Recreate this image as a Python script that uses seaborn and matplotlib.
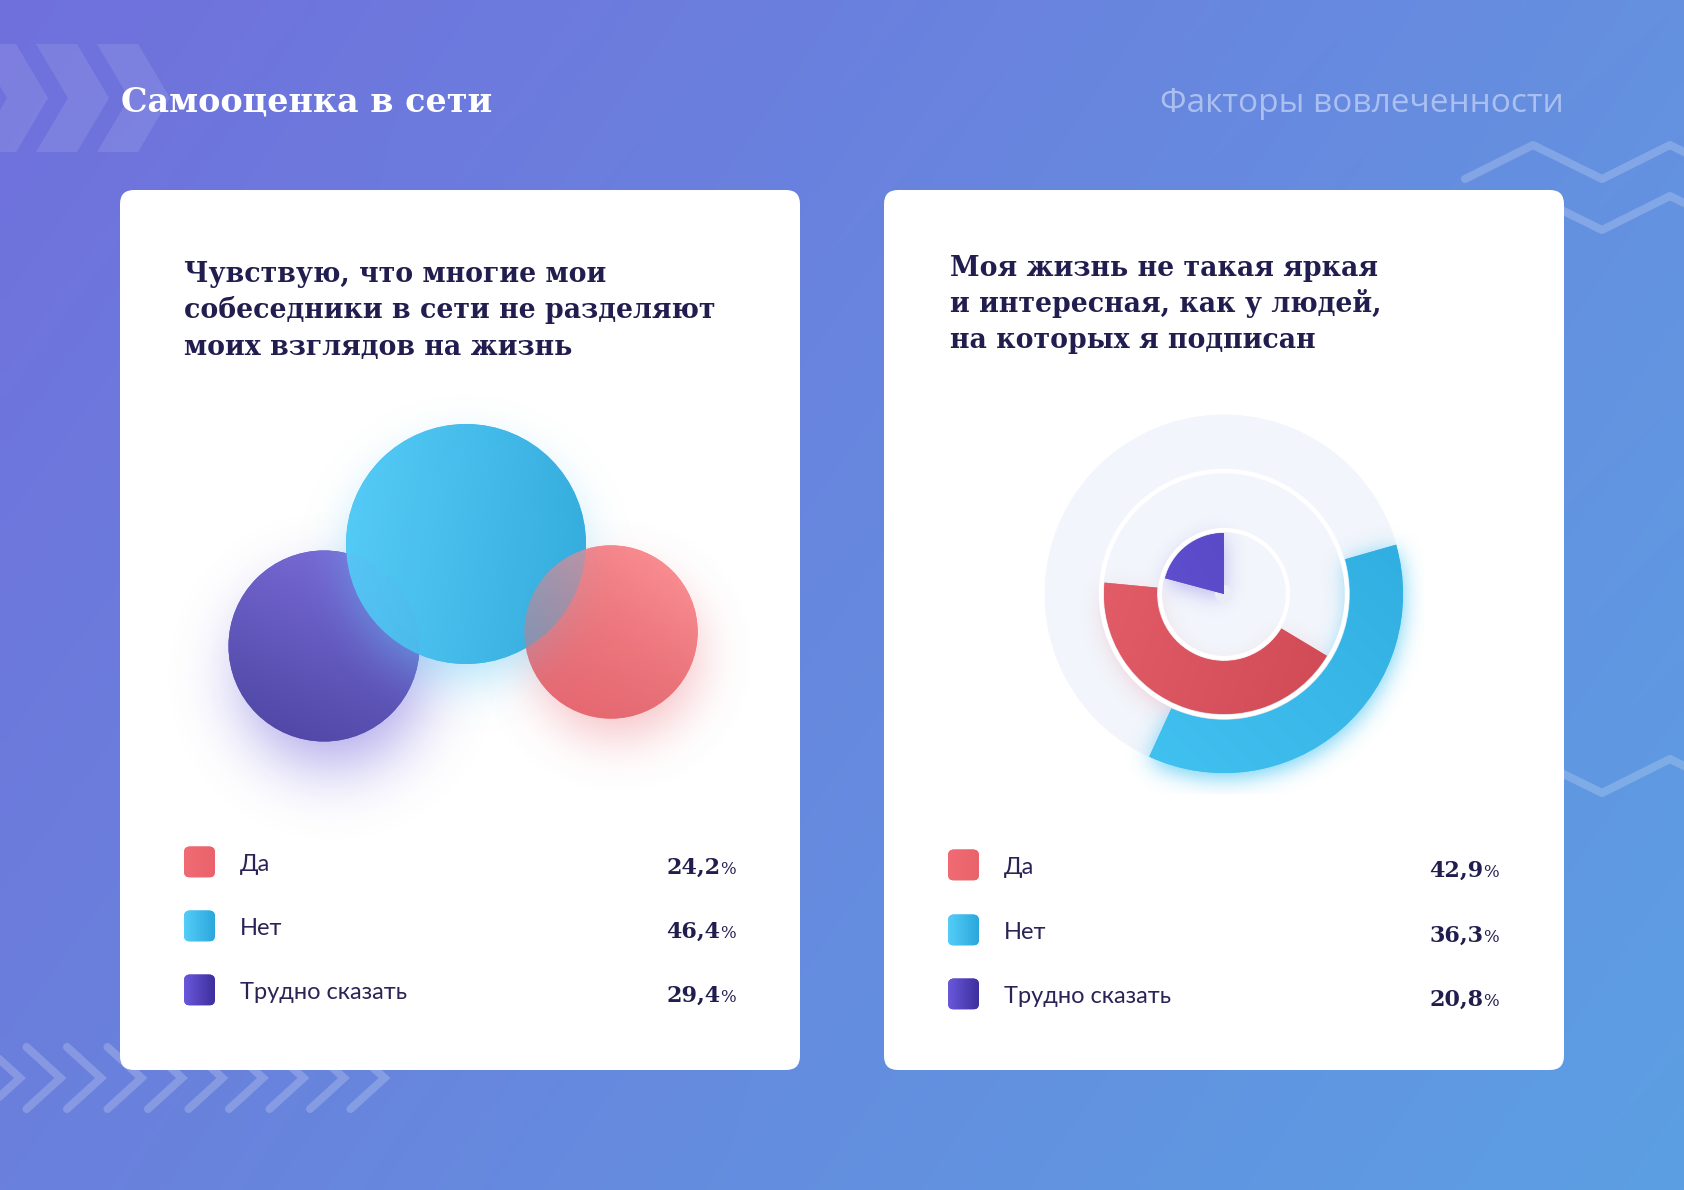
import numpy as np
import pandas as pd
import matplotlib
matplotlib.use('Agg')
import matplotlib.pyplot as plt
from matplotlib.patches import FancyBboxPatch, Circle, Polygon
from matplotlib.colors import to_rgb
import seaborn as sns

# ---------------- data ----------------
categories = ['Да', 'Нет', 'Трудно сказать']
left_values = [24.2, 46.4, 29.4]
right_values = [42.9, 36.3, 20.8]
left_title = ['Чувствую, что многие мои', 'собеседники в сети не разделяют', 'моих взглядов на жизнь']
right_title = ['Моя жизнь не такая яркая', 'и интересная, как у людей,', 'на которых я подписан']
page_title = 'Самооценка в сети'
page_subtitle = 'Факторы вовлеченности'

# ---------------- style ----------------
sns.set_theme(style='white')
plt.rcParams['font.family'] = ['DejaVu Sans']

DARK = '#221d4f'
base_colors = {'Да': '#ec6e76', 'Нет': '#3dbbea', 'Трудно сказать': '#5e52c4'}

W, H, DPI = 1684, 1190, 100
fig = plt.figure(figsize=(W / DPI, H / DPI), dpi=DPI)


def px_axes(x, y, w, h, z=1):
    ax = fig.add_axes([x / W, 1 - (y + h) / H, w / W, h / H], zorder=z)
    ax.set_axis_off()
    ax.patch.set_alpha(0)
    return ax


def lin_grad(c0, c1, direction=(1, 0), a0=1.0, a1=1.0, adir=None, n=128):
    X, Y = np.meshgrid(np.linspace(0, 1, n), np.linspace(0, 1, n))
    dx, dy = direction
    t = X * dx + Y * dy
    t = (t - t.min()) / (t.max() - t.min())
    c0 = np.array(to_rgb(c0)); c1 = np.array(to_rgb(c1))
    img = np.empty((n, n, 4))
    img[..., :3] = c0 + (c1 - c0) * t[..., None]
    if adir is None:
        ta = t
    else:
        ta = X * adir[0] + Y * adir[1]
        ta = (ta - ta.min()) / (ta.max() - ta.min())
    img[..., 3] = a0 + (a1 - a0) * ta
    return img


def blur(a, s):
    k = int(3 * s)
    x = np.arange(-k, k + 1)
    g = np.exp(-x ** 2 / (2 * s * s)); g /= g.sum()
    a = np.apply_along_axis(lambda m: np.convolve(m, g, mode='same'), 0, a)
    a = np.apply_along_axis(lambda m: np.convolve(m, g, mode='same'), 1, a)
    return a


def shadow_img(mask, color, sigma, amp):
    al = np.clip(blur(mask, sigma) * amp, 0, 1)
    img = np.zeros(mask.shape + (4,))
    img[..., :3] = to_rgb(color)
    img[..., 3] = al
    return img


# ---------------- background ----------------
bg = px_axes(0, 0, W, H, z=0)
yy, xx = np.mgrid[0:1:120j, 0:1:170j]
tl, tr, bl, br = [np.array(to_rgb(c)) for c in ('#7070dc', '#6590e0', '#6a80dc', '#5c9fe3')]
bgimg = (tl * ((1 - xx) * (1 - yy))[..., None] + tr * (xx * (1 - yy))[..., None]
         + bl * ((1 - xx) * yy)[..., None] + br * (xx * yy)[..., None])
bg.imshow(bgimg, extent=(0, W, H, 0), aspect='auto', interpolation='bilinear', zorder=0)

# decorative chevrons (top-left)
for k in range(3):
    x0 = -25 + 61 * k
    bg.add_patch(Polygon([(x0, 44), (x0 + 41, 44), (x0 + 73, 98), (x0 + 41, 152), (x0, 152), (x0 + 32, 98)],
                         closed=True, fc='white', alpha=0.1, ec='none', zorder=1))
# decorative line chevrons (bottom-left)
for k in range(10):
    tx = 20 + 40.5 * k
    bg.plot([tx - 34, tx, tx - 34], [1047, 1078, 1109], color='white', alpha=0.2, lw=5.8,
            solid_capstyle='round', solid_joinstyle='miter', zorder=1)
# zigzags (right)
zx = [1465, 1533, 1602, 1670, 1738]
for dy in (0, 51):
    bg.plot(zx, [179 + dy, 145 + dy, 179 + dy, 145 + dy, 179 + dy], color='white', alpha=0.2, lw=5.8,
            solid_capstyle='round', zorder=1)
bg.plot(zx[1:], [759, 793, 759, 793], color='white', alpha=0.2, lw=5.8, solid_capstyle='round', zorder=1)

# cards
for x0 in (120, 884):
    bg.add_patch(FancyBboxPatch((x0, 190), 680, 880, boxstyle='round,pad=0,rounding_size=14',
                                fc='white', ec='none', zorder=2))

# page titles
bg.text(121, 112, page_title, family='DejaVu Serif', fontweight='bold', fontsize=24, color='white',
        va='baseline', zorder=3)
bg.text(1564, 112, page_subtitle, family='Open Sans', fontsize=24, color='#abc0f1', ha='right',
        va='baseline', zorder=3)

# card titles
for i, line in enumerate(left_title):
    bg.text(184, 282 + 36.5 * i, line, family='DejaVu Serif', fontweight='bold', fontsize=19.3,
            color=DARK, va='baseline', zorder=3)
for i, line in enumerate(right_title):
    bg.text(950, 276 + 36 * i, line, family='DejaVu Serif', fontweight='bold', fontsize=19.3,
            color=DARK, va='baseline', zorder=3)

# ---------------- legends ----------------
sq_grad = {'Да': ('#f06b73', '#ea636c', (1, 0)),
           'Нет': ('#54cdf8', '#2ba7dc', (1, 0)),
           'Трудно сказать': ('#6a58dc', '#3d2f9c', (1, 0))}
renderer = fig.canvas.get_renderer()


def draw_legend(x_sq, x_lab, x_val, rows_y, values):
    for cat, yc, v in zip(categories, rows_y, values):
        patch = FancyBboxPatch((x_sq, yc - 15.5), 31, 31, boxstyle='round,pad=0,rounding_size=6',
                               fc=base_colors[cat], ec='none', zorder=3)
        bg.add_patch(patch)
        c0, c1, d = sq_grad[cat]
        im = bg.imshow(lin_grad(c0, c1, d), extent=(x_sq, x_sq + 31, yc + 15.5, yc - 15.5),
                       aspect='auto', zorder=4)
        im.set_clip_path(patch)
        bg.text(x_lab, yc + 9, cat, family='Lato', fontsize=17, color='#2a2456', va='baseline', zorder=5)
        pct = bg.text(x_val, yc + 12, '%', family='DejaVu Serif', fontsize=12, color=DARK,
                      ha='right', va='baseline', zorder=5)
        wpct = pct.get_window_extent(renderer).width
        num = f'{v:.1f}'.replace('.', ',')
        bg.text(x_val - wpct, yc + 12, num, family='DejaVu Serif', fontweight='bold', fontsize=16,
                color=DARK, ha='right', va='baseline', zorder=5)


draw_legend(184, 240, 736, [862, 926, 990], left_values)
draw_legend(948, 1004, 1499, [865, 930, 994], right_values)

bg.set_xlim(0, W); bg.set_ylim(H, 0)

# ---------------- left: bubbles ----------------
AX1 = (150, 380, 620, 460)
ax1 = px_axes(*AX1, z=2)
# layout: bubble centres (pixels, inside the card)
bubble_pos = {'Трудно сказать': (324, 646), 'Нет': (466, 544), 'Да': (611, 632)}
R_MAX = 120
vmax = max(left_values)
radius = {c: R_MAX * np.sqrt(v / vmax) for c, v in zip(categories, left_values)}
draw_order = ['Трудно сказать', 'Нет', 'Да']
df1 = pd.DataFrame({
    'cat': draw_order,
    'x': [bubble_pos[c][0] - AX1[0] for c in draw_order],
    'y': [bubble_pos[c][1] - AX1[1] for c in draw_order],
    'value': [left_values[categories.index(c)] for c in draw_order],
})
sizes = {c: (2 * radius[c] * 72 / DPI) ** 2 for c in draw_order}
sns.scatterplot(data=df1, x='x', y='y', hue='cat', size='cat', sizes=sizes, palette=base_colors,
                legend=False, linewidth=0, ax=ax1, zorder=2)

gx, gy = np.meshgrid(np.arange(AX1[2]) + 0.5, np.arange(AX1[3]) + 0.5)
shadow_spec = {'Трудно сказать': ('#6a5cd8', 8, 30, 32, 0.55, 1),
               'Да': ('#ec7882', 6, 24, 24, 0.45, 1),
               'Нет': ('#5cc9f6', 0, 20, 24, 0.5, 3.5)}
grad_spec = {'Трудно сказать': ('#7e70dd', '#4b43a0', (-0.4, 1), 1.0, 1.0, None, 3),
             'Нет': ('#58cdf9', '#32aadb', (1, 0.15), 0.93, 0.93, None, 4),
             'Да': ('#ff989a', '#dd5e68', (-0.45, 1), 0.35, 1.0, (1, -0.3), 5)}
for _, row in df1.iterrows():
    c = row['cat']
    r = radius[c]
    col, dx, dy, sig, amp, z = shadow_spec[c]
    mask = (((gx - row['x'] - dx) ** 2 + (gy - row['y'] - dy) ** 2) <= (r * 0.95) ** 2).astype(float)
    ax1.imshow(shadow_img(mask, col, sig, amp), extent=(0, AX1[2], AX1[3], 0), zorder=z,
               interpolation='bilinear', aspect='auto')
    c0, c1, d, a0, a1, adir, zg = grad_spec[c]
    circ = Circle((row['x'], row['y']), r, transform=ax1.transData)
    im = ax1.imshow(lin_grad(c0, c1, d, a0, a1, adir),
                    extent=(row['x'] - r, row['x'] + r, row['y'] + r, row['y'] - r),
                    zorder=zg, interpolation='bilinear', aspect='auto')
    im.set_clip_path(circ)
ax1.set_xlim(0, AX1[2]); ax1.set_ylim(AX1[3], 0)
ax1.set_axis_off()

# ---------------- right: nested radial rings ----------------
AX2 = (1024, 394, 400, 400)
ax2 = px_axes(*AX2, z=2)
# layout: ring radii (px) and start angle (deg clockwise from 12 o'clock)
ring_spec = {'Да': (67, 120, 121), 'Нет': (126, 179, 74), 'Трудно сказать': (0, 61, 285)}
ax2.add_patch(Circle((0, 0), 179.5, fc='#f2f5fb', ec='none', zorder=1))

g2x, g2y = np.meshgrid(np.arange(400) - 199.5, 199.5 - np.arange(400))
ring_shadow = {'Нет': ('#3ec2f2', 0, 5, 11, 0.75), 'Да': ('#e88090', 0, 9, 11, 0.35),
               'Трудно сказать': ('#6a5ae0', 0, 5, 10, 0.4)}
ring_grad = {'Нет': ('#46c7f5', '#2ca8dc', (1, -1)),
             'Да': ('#ea6670', '#c9424e', (1, 0.35)),
             'Трудно сказать': ('#6c5ce0', '#4a3bb3', (1, -0.5))}
for cat, v in zip(categories, right_values):
    r_in, r_out, start = ring_spec[cat]
    col, dx, dy, sig, amp = ring_shadow[cat]
    sx, sy = g2x - dx, g2y + dy
    rr = np.hypot(sx, sy)
    ang = (np.degrees(np.arctan2(sx, sy)) - start) % 360
    mask = ((rr >= r_in) & (rr <= r_out) & (ang <= v * 3.6)).astype(float)
    ax2.imshow(shadow_img(mask, col, sig, amp), extent=(-200, 200, -200, 200), zorder=1.5,
               interpolation='bilinear', aspect='auto')

ax2.add_patch(Circle((0, 0), 123, fill=False, ec='white', lw=3.2, zorder=2))
ax2.add_patch(Circle((0, 0), 64, fill=False, ec='white', lw=3.0, zorder=2))
ax2.add_patch(Circle((0, 0), 9, fc='#e9edf6', ec='none', zorder=2))

for cat, v in zip(categories, right_values):
    r_in, r_out, start = ring_spec[cat]
    wedges, _ = ax2.pie([v, 100 - v], radius=r_out, startangle=90 - start, counterclock=False,
                        colors=[base_colors[cat], 'none'],
                        wedgeprops=dict(width=r_out - r_in, linewidth=0, zorder=3))
    c0, c1, d = ring_grad[cat]
    im = ax2.imshow(lin_grad(c0, c1, d), extent=(-200, 200, -200, 200), zorder=4,
                    interpolation='bilinear', aspect='auto')
    im.set_clip_path(wedges[0])

ax2.set_xlim(-200, 200); ax2.set_ylim(-200, 200)
ax2.set_aspect('auto')
ax2.set_axis_off()

fig.savefig('out.png', dpi=DPI)
